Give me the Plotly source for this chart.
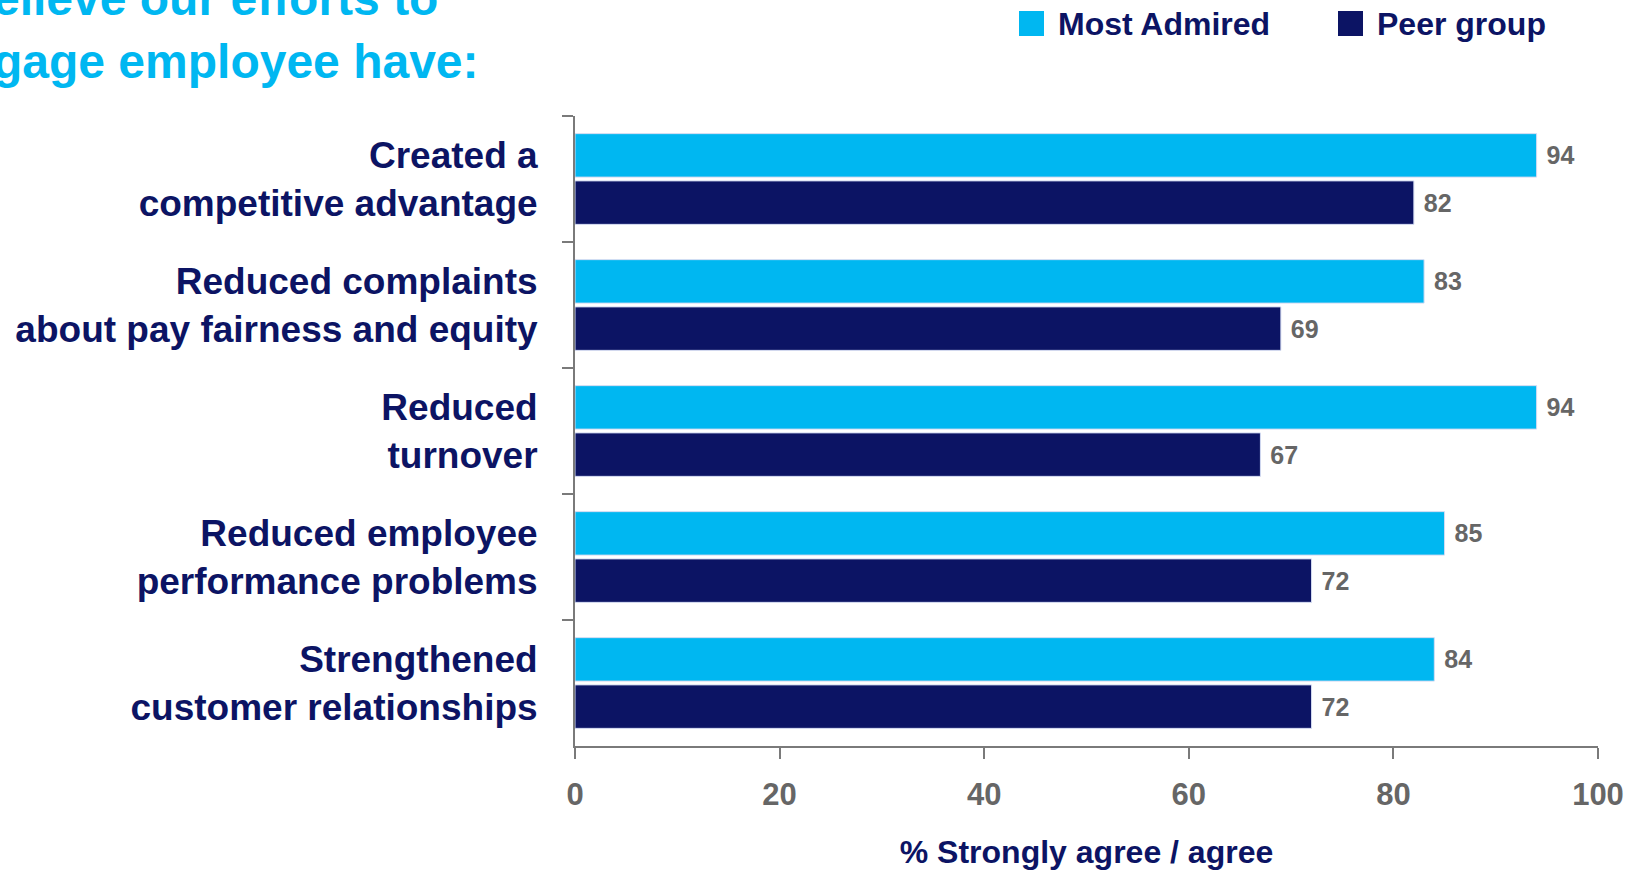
import plotly.graph_objects as go

categories = [
    "Created a<br>competitive advantage",
    "Reduced complaints<br>about pay fairness and equity",
    "Reduced<br>turnover",
    "Reduced employee<br>performance problems",
    "Strengthened<br>customer relationships",
]
most_admired = [94, 83, 94, 85, 84]
peer_group = [82, 69, 67, 72, 72]
series_names = ["Most Admired", "Peer group"]
x_ticks = [0, 20, 40, 60, 80, 100]
title_lines = ["elieve our efforts to", "gage employee have:"]
x_title = "% Strongly agree / agree"

CYAN = "#00B7F1"
NAVY = "#0C1464"
GRAY = "#666666"
AXIS = "#7a7a7a"
FONT = "Liberation Sans, Arial, sans-serif"

FW, FH = 1644, 870
L, R, T, B = 575, 1598, 116, 746
W, H = R - L, B - T


def xp(p):
    return (p - L) / W


def yp(p):
    return (B - p) / H


fig = go.Figure()
for name, vals, col in [(series_names[0], most_admired, CYAN), (series_names[1], peer_group, NAVY)]:
    fig.add_trace(go.Bar(
        name=name, y=categories, x=vals, orientation="h",
        marker=dict(color=col, line=dict(color="#d4dcf2", width=1)),
        texttemplate="\u00a0%{x}", textposition="outside",
        textfont=dict(family=FONT, size=25, color=GRAY, weight="bold"),
        constraintext="none", cliponaxis=False, showlegend=False,
    ))

fig.update_layout(
    width=FW, height=FH,
    margin=dict(l=L, r=FW - R, t=T, b=FH - B, autoexpand=False),
    paper_bgcolor="white", plot_bgcolor="white",
    barmode="group", bargap=0.25, bargroupgap=0.08,
    font=dict(family=FONT),
)
fig.update_yaxes(
    autorange="reversed", tickson="boundaries", ticks="outside", ticklen=11,
    tickcolor=AXIS, tickwidth=2, showline=True, linecolor=AXIS, linewidth=2,
    showgrid=False, ticklabelstandoff=28,
    tickfont=dict(family=FONT, size=37, color=NAVY, weight="bold"),
)
fig.update_xaxes(
    range=[0, 100], tickvals=x_ticks, ticks="outside", ticklen=11,
    tickcolor=AXIS, tickwidth=2, showline=True, linecolor=AXIS, linewidth=2,
    showgrid=False, zeroline=False, ticklabelstandoff=9,
    tickfont=dict(family=FONT, size=31, color=GRAY, weight="bold"),
    title=dict(text=x_title, standoff=37,
               font=dict(family=FONT, size=32, color=NAVY, weight="bold")),
)

# Title (partly cut off at left/top, as in the reference)
for line, xr, yc in [(title_lines[0], 440, -2), (title_lines[1], 481, 61)]:
    fig.add_annotation(
        text=line, xref="paper", yref="paper", x=xp(xr), y=yp(yc),
        xanchor="right", yanchor="middle", showarrow=False,
        font=dict(family=FONT, size=48, color=CYAN, weight="bold"),
    )

# Legend
for name, col, sx, tx in [(series_names[0], CYAN, 1019, 1056), (series_names[1], NAVY, 1338, 1375)]:
    fig.add_shape(type="rect", xref="paper", yref="paper",
                  x0=xp(sx), x1=xp(sx + 25), y0=yp(36), y1=yp(11),
                  fillcolor=col, line=dict(width=0))
    fig.add_annotation(
        text=name, xref="paper", yref="paper", x=xp(tx), y=yp(24),
        xanchor="left", yanchor="middle", showarrow=False,
        font=dict(family=FONT, size=32, color=NAVY, weight="bold"),
    )

fig.write_html("out.html")
